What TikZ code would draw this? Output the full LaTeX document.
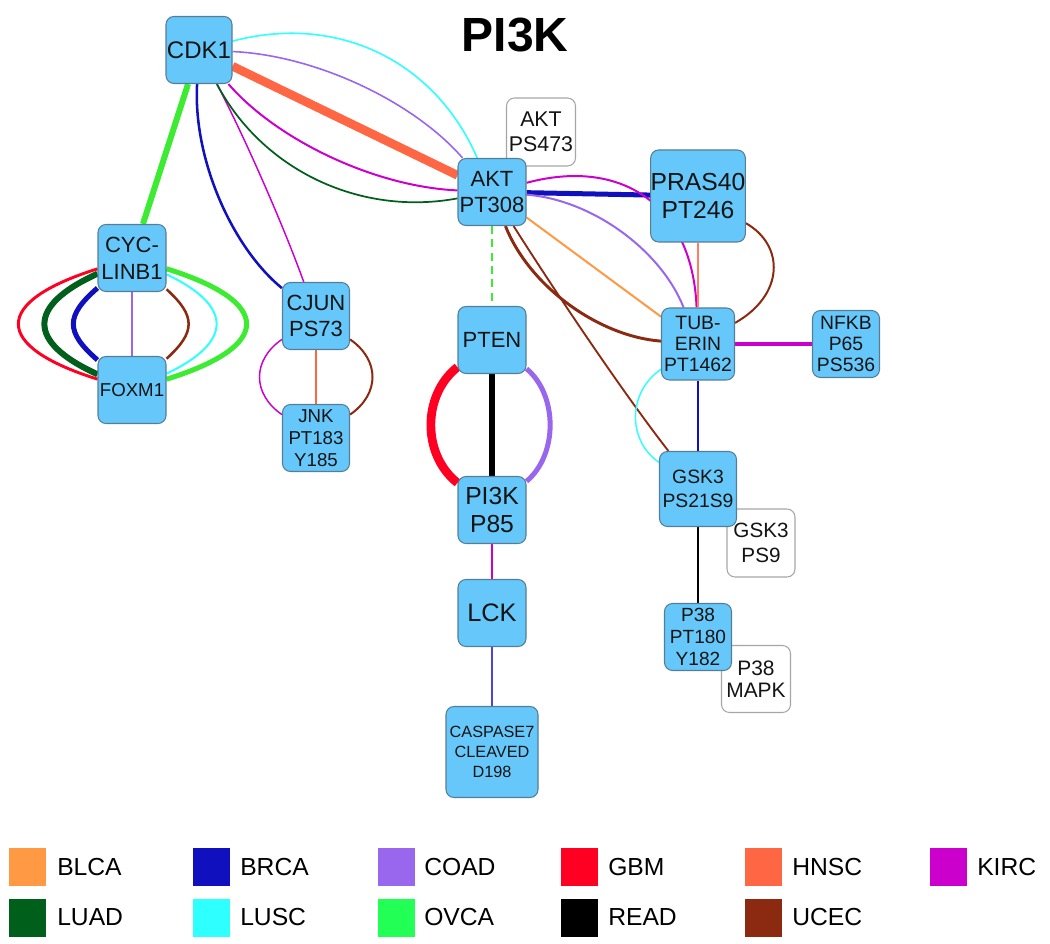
\documentclass[tikz,border=0pt]{standalone}
\usepackage{fontspec}
\setmainfont{Liberation Sans}
\usetikzlibrary{backgrounds}
\newcommand\myfs[2]{\fontsize{#1}{#2}\selectfont}
\definecolor{cBLCA}{RGB}{255,153,68}
\definecolor{cBRCA}{RGB}{16,16,190}
\definecolor{cCOAD}{RGB}{153,102,238}
\definecolor{cGBM}{RGB}{255,0,34}
\definecolor{cHNSC}{RGB}{255,102,68}
\definecolor{cKIRC}{RGB}{204,0,204}
\definecolor{cLUAD}{RGB}{0,95,26}
\definecolor{cLUSC}{RGB}{46,255,255}
\definecolor{cOVCA}{RGB}{34,255,85}
\definecolor{cOVCAe}{RGB}{60,235,50}
\definecolor{cREAD}{RGB}{0,0,0}
\definecolor{cUCEC}{RGB}{139,42,16}
\definecolor{cLCK}{RGB}{80,64,224}
\definecolor{nodeblue}{RGB}{102,200,250}
\definecolor{nodeborder}{RGB}{85,125,150}
\tikzset{
  gnode/.style={draw=nodeborder, line width=0.8pt, fill=nodeblue, rounded corners=6pt,
    inner sep=0pt, align=center, text=black!92},
  wnode/.style={draw=black!35, line width=0.8pt, fill=white, rounded corners=6pt,
    inner sep=0pt, align=center, text=black!92},
  swatch/.style={inner sep=0pt, minimum width=28pt, minimum height=28.5pt},
  legtext/.style={anchor=west, inner sep=0pt, font=\myfs{18.5}{22}},
}
\begin{document}
\begin{tikzpicture}[x=0.75pt,y=-0.75pt]
\path[use as bounding box] (0,0) rectangle (1050,944);

\node[font=\bfseries\myfs{36}{40}] (title) at (515,35) {PI3K};

% white label boxes (behind the blue nodes)
\node[wnode, minimum width=51.75pt, minimum height=51pt, font=\myfs{16}{18.75}] (aktps473) at (541,132) {AKT\\PS473};
\node[wnode, minimum width=51pt, minimum height=51pt, font=\myfs{15.5}{18.75}] (gsk3ps9) at (761,543) {GSK3\\PS9};
\node[wnode, minimum width=51.75pt, minimum height=50.25pt, font=\myfs{15.7}{16.3}] (p38mapk) at (756,679) {P38\\MAPK};

% blue nodes
\node[gnode, minimum width=49.5pt, minimum height=50.25pt, font=\myfs{18}{20}] (cdk1) at (199,50) {CDK1};
\node[gnode, minimum width=51pt, minimum height=50.25pt, font=\myfs{16.5}{20}] (cyc) at (132,258) {CYC-\\LINB1};
\node[gnode, minimum width=51pt, minimum height=50.25pt, font=\myfs{14}{16}] (foxm1) at (132,390) {FOXM1};
\node[gnode, minimum width=50.25pt, minimum height=50.25pt, font=\myfs{16.5}{19}] (cjun) at (316,316) {CJUN\\PS73};
\node[gnode, minimum width=50.25pt, minimum height=50.25pt, font=\myfs{14}{16.3}] (jnk) at (316,438) {JNK\\PT183\\Y185};
\node[gnode, minimum width=51pt, minimum height=50.25pt, font=\myfs{16.5}{20}] (akt) at (492,192) {AKT\\PT308};
\node[gnode, minimum width=69.75pt, minimum height=69pt, font=\myfs{18.5}{21}] (pras40) at (698,196) {PRAS40\\PT246};
\node[gnode, minimum width=54.75pt, minimum height=54pt, font=\myfs{14.5}{15.75}] (tub) at (698,344) {TUB-\\ERIN\\PT1462};
\node[gnode, minimum width=50.25pt, minimum height=50.25pt, font=\myfs{14.5}{15.75}] (nfkb) at (846,344) {NFKB\\P65\\PS536};
\node[gnode, minimum width=51pt, minimum height=50.25pt, font=\myfs{16.5}{20}] (pten) at (492,340) {PTEN};
\node[gnode, minimum width=51pt, minimum height=50.25pt, font=\myfs{18.5}{21}] (pi3k) at (492,510) {PI3K\\P85};
\node[gnode, minimum width=51pt, minimum height=50.25pt, font=\myfs{19}{21}] (lck) at (492,613) {LCK};
\node[gnode, minimum width=69pt, minimum height=68.25pt, font=\myfs{12.2}{15}] (casp) at (492,752) {CASPASE7\\CLEAVED\\D198};
\node[gnode, minimum width=57.75pt, minimum height=56.25pt, font=\myfs{14.5}{17.5}] (gsk3) at (698,489) {GSK3\\PS21S9};
\node[gnode, minimum width=50.25pt, minimum height=50.25pt, font=\myfs{14.3}{16.3}] (p38) at (698,637) {P38\\PT180\\Y182};

% edges
\begin{scope}[on background layer]
% CDK1 - CYCLINB1
\draw[cOVCAe, line width=4.5pt] (cdk1) -- (cyc);
% CDK1 - CJUN
\draw[cBRCA, line width=1.9pt] (cdk1) .. controls +(-6.1,108.6) and +(-84.1,-68.8) .. (cjun);
\draw[cKIRC, line width=1.1pt] (cdk1) .. controls +(45.1,86) and +(-32.9,-91.4) .. (cjun);
% CDK1 - AKT
\draw[cLUSC, line width=1.2pt] (cdk1) .. controls +(138.5,-36.6) and +(-57.1,-131.4) .. (akt);
\draw[cCOAD, line width=1.2pt] (cdk1) .. controls +(118.2,5.4) and +(-77.4,-89.4) .. (akt);
\draw[cHNSC, line width=6.5pt] (cdk1) -- (akt);
\draw[cKIRC, line width=1.5pt] (cdk1) .. controls +(77.4,89.4) and +(-118.2,-5.4) .. (akt);
\draw[cLUAD, line width=1.3pt] (cdk1) .. controls +(62.9,119.4) and +(-132.7,24.6) .. (akt);
% CYCLINB1 - FOXM1
\draw[cGBM, line width=2.2pt] (cyc) .. controls +(-140,44) and +(-140,-44) .. (foxm1);
\draw[cLUAD, line width=4.5pt] (cyc) .. controls +(-105.3,48) and +(-105.3,-48) .. (foxm1);
\draw[cBRCA, line width=3.75pt] (cyc) .. controls +(-66.7,58) and +(-66.7,-58) .. (foxm1);
\draw[cCOAD, line width=1.5pt] (cyc) -- (foxm1);
\draw[cUCEC, line width=1.9pt] (cyc) .. controls +(64,58) and +(64,-58) .. (foxm1);
\draw[cLUSC, line width=1.5pt] (cyc) .. controls +(101.3,48) and +(101.3,-48) .. (foxm1);
\draw[cOVCAe, line width=3.75pt] (cyc) .. controls +(141.3,44) and +(141.3,-44) .. (foxm1);
% CJUN - JNK
\draw[cKIRC, line width=1.1pt] (cjun) .. controls +(-64,44) and +(-64,-44) .. (jnk);
\draw[cHNSC, line width=2.2pt] (cjun) -- (jnk);
\draw[cUCEC, line width=1.5pt] (cjun) .. controls +(64,44) and +(64,-44) .. (jnk);
% AKT - PRAS40
\draw[cBRCA, line width=3.75pt] (akt) -- (pras40);
% AKT - TUBERIN
\draw[cKIRC, line width=1.5pt] (akt) .. controls +(132.1,-35.2) and +(-5.3,-136.6) .. (tub);
\draw[cCOAD, line width=1.5pt] (akt) .. controls +(100.4,7.8) and +(-37,-93.6) .. (tub);
\draw[cBLCA, line width=1.5pt] (akt) -- (tub);
\draw[cUCEC, line width=2.2pt] (akt) .. controls +(37,93.6) and +(-100.4,-7.8) .. (tub);
% AKT - GSK3
\draw[cUCEC, line width=1.4pt] (akt) .. controls +(64,101) and +(-74,-95) .. (gsk3);
% AKT - PTEN
\draw[cOVCAe, line width=1.5pt, dash pattern=on 6pt off 4pt] (akt) -- (pten);
% PRAS40 - TUBERIN
\draw[cHNSC!85!white, line width=1.5pt] (pras40) -- (tub);
\draw[cUCEC, line width=1.5pt] (pras40) .. controls +(86.7,49.3) and +(86.7,-49.3) .. (tub);
% TUBERIN - NFKB
\draw[cKIRC, line width=3pt] (tub) -- (nfkb);
% TUBERIN - GSK3
\draw[cBRCA, line width=2.2pt] (tub) -- (gsk3);
\draw[cLUSC, line width=1.1pt] (tub) .. controls +(-70.7,48.3) and +(-70.7,-48.3) .. (gsk3);
% PTEN - PI3K
\draw[cGBM, line width=6.5pt] (pten) .. controls +(-70,55) and +(-70,-55) .. (pi3k);
\draw[cREAD, line width=4.5pt] (pten) -- (pi3k);
\draw[cCOAD, line width=3.75pt] (pten) .. controls +(66,55) and +(66,-55) .. (pi3k);
% PI3K - LCK - CASPASE7
\draw[cKIRC, line width=1.5pt] (pi3k) -- (lck);
\draw[cLCK, line width=1.5pt] (lck) -- (casp);
% GSK3 - P38
\draw[cREAD, line width=1.9pt] (gsk3) -- (p38);
\end{scope}

% legend
\node[swatch, fill=cBLCA] (sBLCA) at (27.3,867) {};
\node[legtext] (tBLCA) at (57,867) {BLCA};
\node[swatch, fill=cBRCA] (sBRCA) at (211.7,867) {};
\node[legtext] (tBRCA) at (240,867) {BRCA};
\node[swatch, fill=cCOAD] (sCOAD) at (396.3,867) {};
\node[legtext] (tCOAD) at (424,867) {COAD};
\node[swatch, fill=cGBM] (sGBM) at (579.7,867) {};
\node[legtext] (tGBM) at (608,867) {GBM};
\node[swatch, fill=cHNSC] (sHNSC) at (763.7,867) {};
\node[legtext] (tHNSC) at (792,867) {HNSC};
\node[swatch, fill=cKIRC] (sKIRC) at (948.3,867) {};
\node[legtext] (tKIRC) at (977,867) {KIRC};

\node[swatch, fill=cLUAD] (sLUAD) at (27.3,917.5) {};
\node[legtext] (tLUAD) at (57,917.5) {LUAD};
\node[swatch, fill=cLUSC] (sLUSC) at (211.7,917.5) {};
\node[legtext] (tLUSC) at (240,917.5) {LUSC};
\node[swatch, fill=cOVCA] (sOVCA) at (396.3,917.5) {};
\node[legtext] (tOVCA) at (424,917.5) {OVCA};
\node[swatch, fill=cREAD] (sREAD) at (579.7,917.5) {};
\node[legtext] (tREAD) at (608,917.5) {READ};
\node[swatch, fill=cUCEC] (sUCEC) at (763.7,917.5) {};
\node[legtext] (tUCEC) at (792,917.5) {UCEC};
\end{tikzpicture}
\end{document}
